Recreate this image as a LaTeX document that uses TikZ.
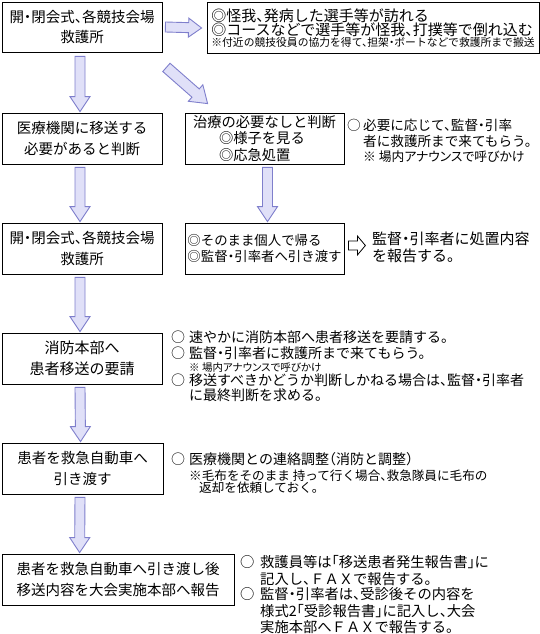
\documentclass[tikz,border=0pt]{standalone}
\usepackage{fontspec}
\setmainfont{Noto Sans CJK JP}[RawFeature=+halt]
\newfontfamily\jpprop{Noto Sans CJK JP}[RawFeature=+palt]
\usetikzlibrary{calc}
\definecolor{arrfill}{HTML}{E0E0F8}
\definecolor{arrline}{HTML}{7F7FCC}
\tikzset{
  arrowshape/.style n args={3}{to path={
    ($(\tikztostart)!#1!90:(\tikztotarget)$)
    -- ($(\tikztotarget)!#3!(\tikztostart)!#1!-90:(\tikztostart)$)
    -- ($(\tikztotarget)!#3!(\tikztostart)!#2!-90:(\tikztostart)$)
    -- (\tikztotarget)
    -- ($(\tikztotarget)!#3!(\tikztostart)!#2!90:(\tikztostart)$)
    -- ($(\tikztotarget)!#3!(\tikztostart)!#1!90:(\tikztostart)$)
    -- ($(\tikztostart)!#1!-90:(\tikztotarget)$)
    -- cycle}},
  blockarr/.style={draw=arrline, fill=arrfill, line width=0.9pt, line join=miter, arrowshape={#1}},
  hollowarr/.style={draw=black, fill=white, line width=0.8pt, line join=miter, arrowshape={#1}},
  box/.style={draw=black, line width=0.8pt, inner sep=0pt, align=center,
    font=\fontsize{14.5}{20.5}\selectfont},
  side/.style={inner sep=0pt, anchor=base west, align=left,
    font=\fontsize{14}{16}\selectfont},
}
\begin{document}
\begin{tikzpicture}[x=1pt,y=-1pt]
\useasboundingbox (0,0) rectangle (540,634);

% boxes
\node[box, minimum width=160pt, minimum height=50pt] (b1) at (82,27)
  {開・閉会式、各競技会場\\救護所};
\node[box, minimum width=332pt, minimum height=51pt, align=left,
  font=\fontsize{15}{14}\selectfont] (b2) at (373,28)
  {◎怪我、発病した選手等が訪れる\\◎コースなどで選手等が怪我、打撲等で倒れ込む\\[-2.3pt]
   {\fontsize{10.8}{13}\selectfont ※付近の競技役員の協力を得て、担架・ボートなどで救護所まで搬送}};
\node[box, minimum width=160pt, minimum height=51pt] (b3) at (82,138.5)
  {医療機関に移送する\\必要があると判断};
\node[box, minimum width=159pt, minimum height=51pt, align=left,
  font=\fontsize{14.3}{16.3}\selectfont] (b4) at (264.5,138.5)
  {治療の必要なしと判断\\\hspace*{26pt}◎様子を見る\\\hspace*{26pt}◎応急処置};
\node[box, minimum width=160pt, minimum height=51pt] (b5) at (82,248.5)
  {開・閉会式、各競技会場\\救護所};
\node[box, minimum width=159pt, minimum height=51pt, align=left,
  font=\fontsize{13.4}{16}\selectfont] (b6) at (264.5,248.5)
  {◎そのまま個人で帰る\\◎監督・引率者へ引き渡す};
\node[box, minimum width=160pt, minimum height=51pt, font=\fontsize{15}{21}\selectfont] (b7) at (82,358.5)
  {消防本部へ\\患者移送の要請};
\node[box, minimum width=161pt, minimum height=51pt] (b8) at (82.5,468.5)
  {患者を救急自動車へ\\引き渡す};
\node[box, minimum width=232pt, minimum height=51pt] (b9) at (118,579.5)
  {患者を救急自動車へ引き渡し後\\移送内容を大会実施本部へ報告};

% side texts
\node[side, font=\fontsize{13.6}{16}\selectfont] (s4) at (347,130) {\begin{tabular}[t]{@{}l@{}l@{}}
  \makebox[16pt][l]{○} & 必要に応じて、監督・引率\\[0.5pt]
  & 者に救護所まで来てもらう。\\[-1pt]
  & {\jpprop\fontsize{12.8}{15}\selectfont ※ 場内アナウンスで呼びかけ}
\end{tabular}};
\node[side, font=\fontsize{15}{16}\selectfont] (s6) at (372,244.3) {\begin{tabular}[t]{@{}l@{}}
  監督・引率者に処置内容\\ を報告する。
\end{tabular}};
\node[side] (s7) at (171,342.3) {\begin{tabular}[t]{@{}l@{}l@{}}
  \makebox[18pt][l]{○} & 速やかに消防本部へ患者移送を要請する。\\
  ○ & 監督・引率者に救護所まで来てもらう。\\[-3pt]
  & {\jpprop\fontsize{10.5}{13}\selectfont ※ 場内アナウンスで呼びかけ}\\[-3pt]
  ○ & 移送すべきかどうか判断しかねる場合は、監督・引率者\\[-2pt]
  & に最終判断を求める。
\end{tabular}};
\node[side] (s8) at (171,464.3) {\begin{tabular}[t]{@{}l@{}l@{}}
  \makebox[18pt][l]{○} & 医療機関との連絡調整（消防と調整）\\
  & {\fontsize{12.6}{15}\selectfont ※毛布をそのまま 持って行く場合、救急隊員に毛布の}\\[-4pt]
  & {\fontsize{12.6}{15}\selectfont \hspace*{10pt}返却を依頼しておく。}
\end{tabular}};
\node[side, font=\fontsize{14.3}{16}\selectfont] (s9) at (240,567.5) {\begin{tabular}[t]{@{}l@{}l@{}}
  \makebox[20pt][l]{○} & 救護員等は「移送患者発生報告書」に\\
  & 記入し、ＦＡＸで報告する。\\[-2pt]
  ○ & 監督・引率者は、受診後その内容を\\[0.5pt]
  & 様式2「受診報告書」に記入し、大会\\[-1pt]
  & 実施本部へＦＡＸで報告する。
\end{tabular}};

% arrow end points
\coordinate (a1s) at ([xshift=3pt]b1.east);
\coordinate (a1e) at ([xshift=-5pt]b2.west);
\coordinate (a2s) at ([shift={(-2pt,-4pt)}]b1.south);
\coordinate (a2e) at ([shift={(-2pt,1pt)}]b3.north);
\coordinate (d1) at ([shift={(4pt,-15pt)}]b1.south east);
\coordinate (d2) at ([shift={(23pt,9pt)}]b4.north west);
\coordinate (a3s) at ([shift={(3pt,-3pt)}]b4.south);
\coordinate (a3e) at ([shift={(3pt,1pt)}]b6.north);
\coordinate (a4s) at ([shift={(-2pt,-3pt)}]b3.south);
\coordinate (a4e) at ([shift={(-2pt,1pt)}]b5.north);
\coordinate (a5s) at ([shift={(-2pt,-3pt)}]b5.south);
\coordinate (a5e) at ([shift={(-2pt,1pt)}]b7.north);
\coordinate (a6s) at ([shift={(-2pt,-3pt)}]b7.south);
\coordinate (a6e) at ([shift={(-2pt,1pt)}]b8.north);
\coordinate (a7s) at ([shift={(-2.5pt,-3pt)}]b8.south);
\coordinate (a7e) at ([shift={(78pt,1pt)}]b9.north west);
\coordinate (h1s) at ([shift={(4pt,3pt)}]b6.east);
\coordinate (h1e) at ([shift={(21pt,3pt)}]b6.east);

% arrows
\draw[blockarr={5pt}{9.5pt}{13pt}] (a1s) to (a1e);
\draw[blockarr={5pt}{10pt}{15pt}] (a2s) to (a2e);
\draw[blockarr={5.5pt}{11pt}{16pt}] (d1) to (d2);
\draw[blockarr={5pt}{10pt}{15pt}] (a3s) to (a3e);
\draw[blockarr={5pt}{10pt}{15pt}] (a4s) to (a4e);
\draw[blockarr={5pt}{10pt}{15pt}] (a5s) to (a5e);
\draw[blockarr={5pt}{10pt}{15pt}] (a6s) to (a6e);
\draw[blockarr={5pt}{10pt}{15pt}] (a7s) to (a7e);
\draw[hollowarr={4.5pt}{9.5pt}{8pt}] (h1s) to (h1e);
\end{tikzpicture}
\end{document}
